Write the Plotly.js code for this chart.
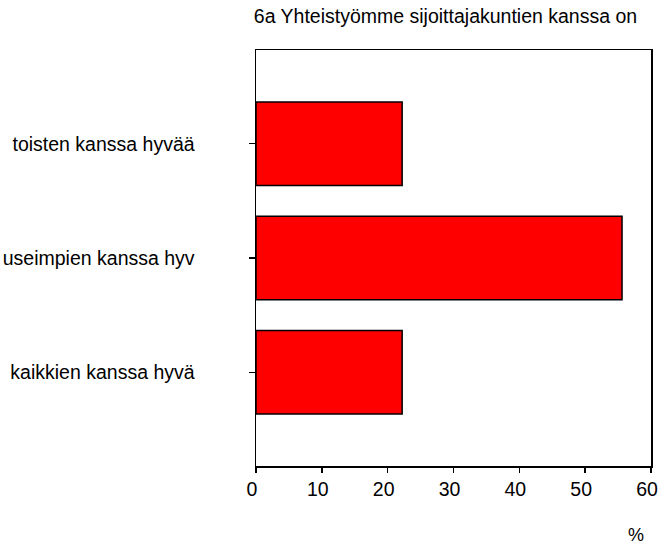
<!DOCTYPE html>
<html>
<head>
<meta charset="utf-8">
<script src="https://cdn.plot.ly/plotly-3.0.1.min.js"></script>
<style>
  body { margin: 0; background: #fff; }
  #Graph { width: 660px; height: 547px; }
</style>
</head>
<body>
<div id="Graph"></div>
<script>
// answer categories, bottom to top
var categories = ['kaikkien kanssa hyvä', 'useimpien kanssa hyv', 'toisten kanssa hyvää'];
// share of answers, %
var percents = [22.2, 55.6, 22.2];
var xticks = [0, 10, 20, 30, 40, 50, 60];

var bars = {
  type: 'bar',
  orientation: 'h',
  x: percents,
  y: categories,
  width: 0.73,
  marker: {color: '#ff0000', line: {color: '#000', width: 1.5}},
  hoverinfo: 'x+y'
};

var layout = {
  width: 660,
  height: 547,
  margin: {l: 256, r: 9, t: 50, b: 81},
  paper_bgcolor: '#fff',
  plot_bgcolor: '#fff',
  showlegend: false,
  font: {family: 'Liberation Sans, Arial, sans-serif', size: 19.5, color: '#000'},
  title: {
    text: '6a Yhteistyömme sijoittajakuntien kanssa on',
    font: {size: 19.5, color: '#000'},
    xref: 'container', x: 0.675, xanchor: 'center',
    yref: 'container', y: 1 - 16 / 547, yanchor: 'middle'
  },
  xaxis: {
    range: [0, 60],
    tickvals: xticks,
    ticks: 'outside', ticklen: 5, tickwidth: 1.5, tickcolor: '#000',
    ticklabelshift: -4,
    showline: true, linewidth: 1.5, linecolor: '#000', mirror: true,
    showgrid: false, zeroline: false,
    fixedrange: true
  },
  yaxis: {
    type: 'category',
    range: [-0.82, 2.82],
    ticks: 'outside', ticklen: 6, tickwidth: 1.5, tickcolor: '#000',
    ticklabelstandoff: 50,
    showline: true, linewidth: 1.5, linecolor: '#000', mirror: true,
    showgrid: false, zeroline: false,
    fixedrange: true
  },
  annotations: [{
    text: '%', showarrow: false,
    xref: 'paper', yref: 'paper',
    x: 0.963, y: -0.166, xanchor: 'center', yanchor: 'middle',
    font: {size: 18}
  }]
};

Plotly.newPlot('Graph', [bars], layout, {displayModeBar: false, staticPlot: true});
</script>
</body>
</html>
